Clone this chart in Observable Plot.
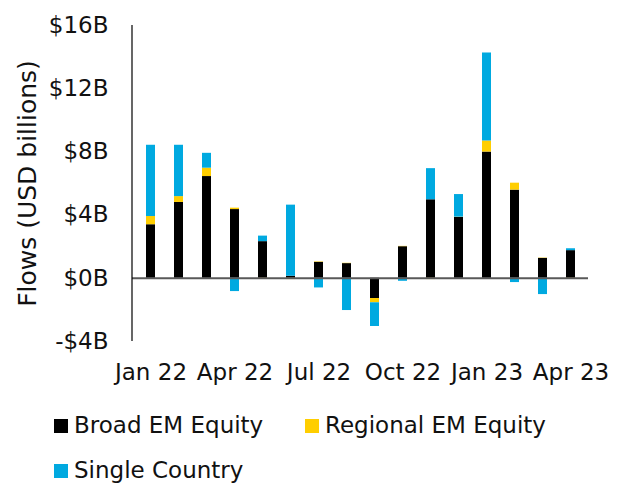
<!DOCTYPE html>
<html>
<head>
<meta charset="utf-8">
<script src="https://cdn.jsdelivr.net/npm/d3@7"></script>
<script src="https://cdn.jsdelivr.net/npm/@observablehq/plot@0.6"></script>
<style>
  body { margin: 0; background: #fff; font-family: "DejaVu Sans", sans-serif; }
  #chart { width: 625px; }
  .legend { padding-left: 54px; padding-top: 3px; display: flex; flex-wrap: wrap; font-size: 23px; color: #111; }
  .item { height: 45px; line-height: 45px; display: flex; align-items: center; }
  .item .sw { width: 14px; height: 14px; margin-right: 6px; flex: none; }
</style>
</head>
<body>
<div id="chart"></div>
<script>
const months = ["Jan 22","Feb 22","Mar 22","Apr 22","May 22","Jun 22","Jul 22","Aug 22","Sep 22","Oct 22","Nov 22","Dec 22","Jan 23","Feb 23","Mar 23","Apr 23"];
const seriesNames = ["Broad EM Equity","Regional EM Equity","Single Country"];
const seriesColors = ["#000000","#FFCE00","#00A9E0"];
const broad    = [3.39, 4.80, 6.44, 4.35, 2.32, 0.13, 1.01, 0.93, -1.28, 2.00, 4.97, 3.85, 7.99, 5.58, 1.26, 1.75];
const regional = [0.52, 0.37, 0.53, 0.09, -0.05, -0.08, 0.03, 0.02, -0.27, 0.02, -0.08, 0.02, 0.70, 0.44, 0.02, -0.05];
const single   = [4.51, 3.25, 0.94, -0.84, 0.35, 4.50, -0.61, -2.04, -1.50, -0.19, 1.97, 1.43, 5.57, -0.27, -1.03, 0.12];
const yTicks = [-4, 0, 4, 8, 12, 16];
const xTicks = ["Jan 22","Apr 22","Jul 22","Oct 22","Jan 23","Apr 23"];
const yLabel = "Flows (USD billions)";

const seriesValues = [broad, regional, single];
const data = [];
seriesNames.forEach((s, i) => months.forEach((m, j) => data.push({month: m, series: s, value: seriesValues[i][j]})));

const marginLeft = 132, marginTop = 25, marginBottom = 59;
const chart = Plot.plot({
  width: 625,
  height: 400,
  marginLeft,
  marginRight: 37,
  marginTop,
  marginBottom,
  style: {fontFamily: "DejaVu Sans, sans-serif", fontSize: "23px", color: "#111", background: "#fff"},
  x: {domain: months, paddingInner: 0.684, paddingOuter: 0.342, label: null},
  y: {domain: [-4, 16], label: null},
  color: {domain: seriesNames, range: seriesColors},
  marks: [
    Plot.barY(data, Plot.stackY({order: null}, {x: "month", y: "value", fill: "series", z: "series"})),
    Plot.ruleY([0], {stroke: "#595959", strokeWidth: 2}),
    Plot.axisY({ticks: yTicks, tickSize: 0, tickPadding: 24,
      tickFormat: d => (d < 0 ? "-$" : "$") + Math.abs(d) + "B", label: null}),
    Plot.text([yLabel], {text: d => d, frameAnchor: "left", textAnchor: "middle", lineAnchor: "middle", rotate: -90, dx: -105, fontSize: 25, fill: "#111"}),
    Plot.axisX({ticks: xTicks, tickSize: 0, tickPadding: 22, label: null})
  ]
});
// left axis line drawn from y scale
const ys = chart.scale("y");
const yf = d3.scaleLinear().domain(ys.domain).range(ys.range);
d3.select(chart).append("line")
  .attr("x1", marginLeft).attr("x2", marginLeft)
  .attr("y1", yf(16)).attr("y2", yf(-4))
  .attr("stroke", "#000").attr("stroke-width", 1.2);
document.getElementById("chart").appendChild(chart);

const legend = d3.select("#chart").append("div").attr("class", "legend");
const widths = [251, 280, 300];
seriesNames.forEach((s, i) => {
  const it = legend.append("div").attr("class", "item").style("width", widths[i] + "px");
  it.append("div").attr("class", "sw").style("background", seriesColors[i]);
  it.append("span").text(s);
});
</script>
</body>
</html>
